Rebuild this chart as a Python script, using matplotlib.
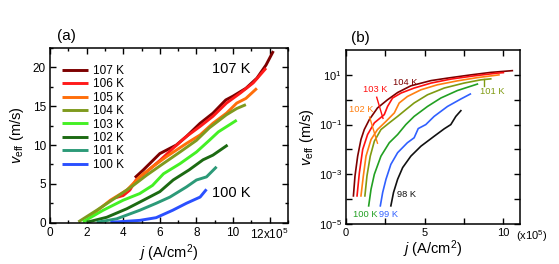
import numpy as np
import matplotlib.pyplot as plt
from matplotlib.ticker import MultipleLocator, NullFormatter, FixedLocator

plt.rcParams['font.family'] = ['Liberation Sans', 'DejaVu Sans']
plt.rcParams['mathtext.fontset'] = 'custom'
plt.rcParams['mathtext.rm'] = 'Liberation Sans'
plt.rcParams['mathtext.it'] = 'Liberation Sans:italic'

# panel (a): v_eff vs j, linear
temps_a = ['107 K', '106 K', '105 K', '104 K', '103 K', '102 K', '101 K', '100 K']
colors_a = ['#7d0000', '#ff1a1a', '#ff6e0a', '#7f9a1e', '#44f024', '#1c6a12', '#2c9a78', '#2a50ff']
j_a = [
    [4.64, 5.1, 6.0, 6.9, 7.45, 8.2, 8.9, 9.6, 10.0, 10.7, 11.3, 11.8, 12.2],
    [3.55, 4.0, 4.36, 4.7, 5.27, 6.0, 6.73, 7.45, 8.2, 8.9, 9.64, 10.4, 11.1, 11.8],
    [2.15, 3.3, 4.2, 4.9, 5.6, 6.36, 7.45, 8.2, 8.9, 9.64, 10.2, 10.7, 11.3],
    [1.55, 2.55, 3.64, 4.55, 5.27, 6.18, 7.1, 8.0, 8.7, 9.64, 10.2, 10.7],
    [1.8, 2.9, 4.0, 4.9, 5.6, 6.2, 7.1, 8.0, 8.7, 9.2, 9.8, 10.2],
    [2.0, 3.1, 4.2, 5.27, 6.0, 6.73, 7.6, 8.36, 8.9, 9.7],
    [2.55, 3.64, 4.9, 5.8, 6.55, 7.45, 8.0, 8.55, 9.1],
    [3.3, 4.9, 5.8, 6.7, 7.45, 8.2, 8.55],
]
v_a = [
    [5.8, 6.8, 8.9, 10.0, 11.1, 12.8, 14.1, 15.8, 16.3, 17.3, 18.6, 20.3, 22.1],
    [3.2, 3.5, 4.2, 5.5, 6.55, 8.0, 9.6, 11.1, 12.4, 13.7, 15.4, 16.7, 18.0, 19.9],
    [0.75, 2.9, 4.2, 5.9, 7.2, 8.5, 10.2, 11.3, 12.8, 14.1, 15.4, 16.0, 17.3],
    [0.1, 1.6, 3.3, 4.8, 6.1, 7.6, 9.1, 10.6, 12.2, 13.9, 14.7, 15.2],
    [0.1, 1.6, 2.9, 3.75, 4.8, 6.3, 7.6, 9.1, 10.6, 11.7, 12.6, 13.2],
    [0.05, 0.7, 1.8, 3.1, 4.0, 5.5, 6.8, 8.1, 8.7, 10.0],
    [0.05, 0.5, 1.6, 2.5, 3.3, 4.6, 5.5, 5.9, 7.2],
    [0.05, 0.3, 0.65, 1.6, 2.5, 3.3, 4.3],
]

# panel (b): v_eff vs j, log
temps_b = ['104 K', '103 K', '102 K', '101 K', '100 K', '99 K', '98 K']
colors_b = ['#7d0000', '#ff1010', '#ff7f10', '#7f9a10', '#22a022', '#3060ff', '#111111']
j_b = [
    [0.47, 0.57, 0.74, 0.95, 1.16, 1.48, 2.0, 2.64, 3.28, 4.12, 5.4, 6.45, 7.93, 9.2, 10.57],
    [0.7, 0.85, 1.06, 1.37, 1.8, 2.43, 2.64, 2.96, 3.5, 4.33, 5.4, 6.66, 8.14, 9.6, 10.0],
    [0.95, 1.1, 1.27, 1.59, 2.0, 2.54, 3.07, 3.38, 3.9, 4.76, 5.8, 7.08, 8.35, 9.72],
    [1.2, 1.33, 1.54, 1.8, 2.22, 2.75, 3.28, 3.8, 4.33, 5.18, 6.24, 7.5, 8.56, 9.2],
    [1.44, 1.59, 1.8, 2.22, 2.75, 3.28, 3.8, 4.33, 5.18, 6.03, 7.08, 8.35],
    [2.18, 2.33, 2.54, 2.85, 3.28, 3.9, 4.33, 4.59, 5.07, 5.6, 6.45, 7.3, 7.9],
    [2.85, 3.02, 3.28, 3.6, 4.12, 4.76, 5.6, 6.24, 6.66, 6.98, 7.3],
]
logv_b = [
    [-3.87, -3.07, -2.27, -1.6, -1.2, -0.8, -0.33, 0.0, 0.29, 0.56, 0.77, 0.87, 1.0, 1.1, 1.17],
    [-3.87, -2.93, -2.0, -1.4, -0.93, -0.6, -0.27, 0.07, 0.27, 0.47, 0.67, 0.83, 0.96, 1.07, 1.09],
    [-3.87, -3.07, -2.27, -1.6, -1.2, -0.87, -0.53, -0.13, 0.13, 0.4, 0.6, 0.76, 0.89, 1.0],
    [-3.87, -3.07, -2.27, -1.67, -1.2, -0.93, -0.67, -0.4, -0.13, 0.2, 0.47, 0.67, 0.8, 0.84],
    [-4.27, -3.6, -3.0, -2.27, -1.73, -1.4, -1.0, -0.67, -0.27, 0.07, 0.37, 0.63],
    [-4.27, -3.73, -3.2, -2.6, -2.13, -1.73, -1.53, -1.16, -1.0, -0.67, -0.27, 0.03, 0.23],
    [-4.27, -3.73, -3.2, -2.73, -2.27, -1.87, -1.47, -1.17, -1.0, -0.67, -0.44],
]
# label text positions (data coords) and leader line ends
lab_xy_b = [(3.0, 10**0.6), (1.05, 10**0.3), (0.2, 10**-0.5), (8.5, 10**0.22),
            (0.45, 10**-4.7), (2.1, 10**-4.7), (3.25, 10**-3.9)]
leaders_b = {1: [(1.95, 10**0.1), (2.35, 10**-0.75)],
             2: [(1.5, 10**-0.7), (2.0, 10**-1.75)],
             3: [(8.8, 10**0.55), (8.8, 10**0.85)]}

fig = plt.figure(figsize=(5.59, 2.64), dpi=100)
ax = fig.add_axes([0.0894, 0.1564, 0.4258, 0.662])
for j, v, c, t in zip(j_a, v_a, colors_a, temps_a):
    ax.plot(j, v, color=c, lw=2.1, label=t, solid_capstyle='butt')
ax.set_xlim(0, 13)
ax.set_ylim(0, 22.5)
ax.xaxis.set_minor_locator(MultipleLocator(1))
ax.yaxis.set_major_locator(MultipleLocator(5))
ax.yaxis.set_minor_locator(MultipleLocator(2.5))
ax.set_xticks([0, 2, 4, 6, 8, 10, 12])
ax.set_xticklabels(['0', '2', '4', '6', '8', '10', '12x10$^5$'])
ax.tick_params(which='both', direction='in', top=True, right=True, labelsize=8.5, width=1, pad=3)
ax.tick_params(which='major', length=4)
ax.tick_params(which='minor', length=2.5)
ax.set_xlabel('$j$ (A/cm$^2$)', fontsize=10.5, labelpad=0)
ax.set_ylabel(r'$v_{\rm eff}$ (m/s)', fontsize=10.5, labelpad=5)
ax.legend(loc='upper left', bbox_to_anchor=(0.03, 0.93), frameon=False, fontsize=8.5,
          handlelength=2.2, handletextpad=0.45, labelspacing=0.12, borderaxespad=0)
ax.text(8.84, 19.3, '107 K', fontsize=10.5)
ax.text(8.84, 3.3, '100 K', fontsize=10.5)
ax.text(0.03, 1.03, '(a)', transform=ax.transAxes, fontsize=11, va='bottom')
for s in ax.spines.values():
    s.set_linewidth(1.1)

bx = fig.add_axes([0.619, 0.1515, 0.311, 0.659])
for j, lv, c in zip(j_b, logv_b, colors_b):
    bx.plot(j, 10**np.array(lv), color=c, lw=1.2)
bx.set_yscale('log')
bx.set_xlim(0, 11.05)
bx.set_ylim(1e-5, 1e2)
bx.xaxis.set_major_locator(FixedLocator([0, 5, 10]))
bx.xaxis.set_minor_locator(MultipleLocator(2.5))
bx.yaxis.set_major_locator(FixedLocator([1e-5, 1e-3, 1e-1, 1e1]))
bx.yaxis.set_minor_locator(FixedLocator([1e-4, 1e-2, 1e0]))
bx.yaxis.set_minor_formatter(NullFormatter())
bx.tick_params(which='both', direction='in', top=True, right=True, labelsize=8, width=1, pad=3)
bx.tick_params(which='major', length=4)
bx.tick_params(which='minor', length=4)
bx.set_xlabel('$j$ (A/cm$^2$)', fontsize=10.5, labelpad=0)
bx.set_ylabel(r'$v_{\rm eff}$ (m/s)', fontsize=10.5, labelpad=2)
bx.text(0.98, -0.07, '(x10$^5$)', transform=bx.transAxes, fontsize=8, va='center')
bx.text(0.03, 1.03, '(b)', transform=bx.transAxes, fontsize=11, va='bottom')
for i, (t, c) in enumerate(zip(temps_b, colors_b)):
    bx.text(lab_xy_b[i][0], lab_xy_b[i][1], t, color=c, fontsize=6.7)
for i, pts in leaders_b.items():
    bx.plot([pts[0][0], pts[1][0]], [pts[0][1], pts[1][1]], color=colors_b[i], lw=1)
for s in bx.spines.values():
    s.set_linewidth(1.1)

plt.savefig('out.png', dpi=100)
